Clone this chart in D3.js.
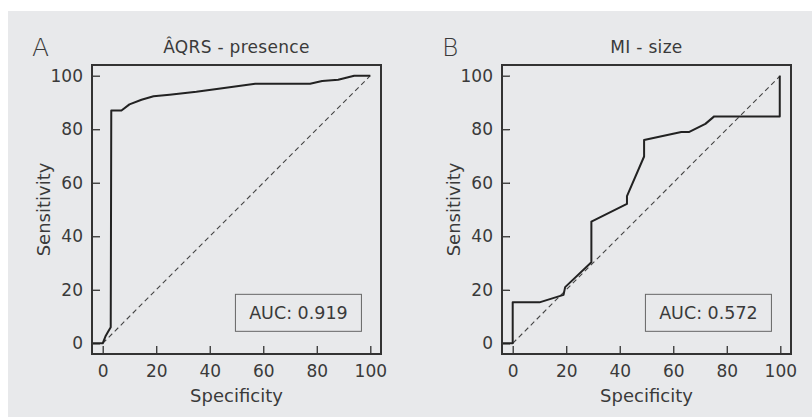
<!DOCTYPE html>
<html>
<head>
<meta charset="utf-8">
<script src="https://cdn.jsdelivr.net/npm/d3@7"></script>
<style>
    body { margin: 0; background: #ffffff; }
    svg text { font-family: "DejaVu Sans", sans-serif; fill: #3a3a3a; }
</style>
</head>
<body>
<svg id="chart" width="812" height="417"></svg>
<script>
// tick values, shared by both panels
const ticks = [0, 20, 40, 60, 80, 100];

// panel A - QRS presence
const aSpec = [-4, 0, 1, 2, 3, 3.2, 7, 10, 14.5, 19, 25, 35, 44, 57, 77.5, 82, 88, 94, 100];
const aSens = [0, 0, 2.5, 4.3, 6, 87, 87, 89.3, 91, 92.3, 92.9, 94, 95.2, 97, 97, 98, 98.5, 100, 100];

// panel B - MI size
const bSpec = [-4, 0, 0, 10, 19, 19.6, 29.4, 29.4, 42.7, 42.7, 49.1, 49.1, 63, 66, 72, 75.3, 99.8, 99.8];
const bSens = [0, 0, 15.3, 15.3, 18.1, 21, 30.3, 45.5, 52.1, 55, 69.8, 76, 79, 79, 82, 84.8, 84.8, 100];

const panels = [
    {letter: 'A', title: 'ÂQRS - presence', auc: 'AUC: 0.919', spec: aSpec, sens: aSens, left: 92},
    {letter: 'B', title: 'MI - size', auc: 'AUC: 0.572', spec: bSpec, sens: bSens, left: 502},
];

const svg = d3.select('#chart');
const size = 289;
const plotTop = 65;

svg.append('rect')
    .attr('x', 8).attr('y', 11)
    .attr('width', 804).attr('height', 406)
    .attr('fill', '#e8e9eb');

function drawPanel(pn) {
    const x = d3.scaleLinear().domain([-4, 104]).range([pn.left, pn.left + size]);
    const y = d3.scaleLinear().domain([-4, 104]).range([plotTop + size, plotTop]);
    const g = svg.append('g');

    // axes with inward ticks
    const xAxis = g.append('g')
        .attr('transform', 'translate(0,' + (plotTop + size) + ')')
        .call(d3.axisBottom(x).tickValues(ticks).tickSizeInner(-8).tickSizeOuter(0).tickPadding(11));
    const yAxis = g.append('g')
        .attr('transform', 'translate(' + pn.left + ',0)')
        .call(d3.axisLeft(y).tickValues(ticks).tickSizeInner(-8).tickSizeOuter(0).tickPadding(9));
    [xAxis, yAxis].forEach(a => {
        a.select('.domain').remove();
        a.selectAll('line').attr('stroke', '#333').attr('stroke-width', 1.3);
        a.selectAll('text').attr('font-size', 17).attr('font-family', null).attr('fill', '#3a3a3a');
    });

    // diagonal reference
    g.append('line')
        .attr('x1', x(0)).attr('y1', y(0))
        .attr('x2', x(100)).attr('y2', y(100))
        .attr('stroke', '#444').attr('stroke-width', 1.1)
        .attr('stroke-dasharray', '5,3.5');

    const line = d3.line()
        .x(i => x(pn.spec[i]))
        .y(i => y(pn.sens[i]));
    g.append('path')
        .datum(d3.range(pn.spec.length))
        .attr('d', line)
        .attr('fill', 'none')
        .attr('stroke', '#222')
        .attr('stroke-width', 2)
        .attr('stroke-linejoin', 'round');

    // frame
    g.append('rect')
        .attr('x', pn.left).attr('y', plotTop)
        .attr('width', size).attr('height', size)
        .attr('fill', 'none')
        .attr('stroke', '#333')
        .attr('stroke-width', 2);

    // AUC box
    g.append('rect')
        .attr('x', x(49.6)).attr('y', y(18.3))
        .attr('width', 126).attr('height', 37)
        .attr('fill', 'none')
        .attr('stroke', '#666')
        .attr('stroke-width', 1);
    g.append('text')
        .attr('x', x(49.6) + 63).attr('y', y(18.3) + 25)
        .attr('text-anchor', 'middle')
        .attr('font-size', 17.5)
        .text(pn.auc);

    g.append('text')
        .attr('x', pn.left + size / 2).attr('y', 53)
        .attr('text-anchor', 'middle')
        .attr('font-size', 17)
        .attr('letter-spacing', 0.3)
        .text(pn.title);

    g.append('text')
        .attr('x', pn.left - 60).attr('y', 56)
        .attr('font-size', 25)
        .attr('font-weight', 300)
        .text(pn.letter);

    g.append('text')
        .attr('x', pn.left + size / 2).attr('y', 402)
        .attr('text-anchor', 'middle')
        .attr('font-size', 18)
        .text('Specificity');

    g.append('text')
        .attr('transform', 'translate(' + (pn.left - 42) + ',' + (plotTop + size / 2) + ') rotate(-90)')
        .attr('text-anchor', 'middle')
        .attr('font-size', 18)
        .text('Sensitivity');
}

panels.forEach(drawPanel);
</script>
</body>
</html>
